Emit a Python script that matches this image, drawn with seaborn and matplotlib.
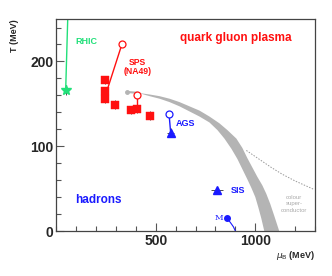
import numpy as np
import pandas as pd
import matplotlib
matplotlib.use('Agg')
import matplotlib.pyplot as plt
import seaborn as sns
from matplotlib.ticker import MultipleLocator

# ---- data (mu_B in MeV, T in MeV) ----
sps_mu = [245, 245, 245, 295, 378, 407, 470]
sps_T = [178, 165, 156, 149, 143, 144, 136]

sps_open_mu = [330, 407]
sps_open_T = [220, 160]
sps_link_mu = [245, 407]
sps_link_T = [158, 144]

rhic_mu, rhic_T = 48, 166
rhic_line_mu = [48, 62]
rhic_line_T = [166, 280]

ags_open = (567, 138)
ags_tri = (575, 116)
sis_tri = (808, 48)
m_dot = (858, 15)
m_line_mu = [858, 875, 890, 900]
m_line_T = [15, 10, 5, 0]

# phase boundary band edges
band_outer_mu = [410, 440, 470, 520, 570, 620, 670, 720, 770, 820, 860,
                 905, 935, 960, 985, 1010, 1035, 1055, 1075, 1095, 1120]
band_outer_T = [163, 162, 161, 159, 156, 152, 147, 142, 135, 127, 119,
                109, 98, 86, 75, 64, 54, 44, 32, 18, 0]
band_inner_mu = [410, 440, 470, 520, 570, 620, 670, 720, 770, 810, 845,
                 880, 910, 935, 960, 980, 1000, 1015, 1030, 1045]
band_inner_T = [163, 161, 159, 156, 152, 147, 141, 135, 128, 119, 109,
                97, 85, 73, 61, 51, 40, 28, 15, 0]
band_lead_mu = [355, 410]
band_lead_T = [164, 163]

# colour superconductor boundary (dotted)
csc_mu = [955, 1030, 1080, 1135, 1200, 1295]
csc_T = [95, 83, 75, 67, 59, 49]

sns.set_style('ticks')
plt.rcParams['font.family'] = ['Liberation Sans', 'DejaVu Sans']

RED = '#ff1010'
GREEN = '#22e07a'
BLUE = '#1a1aff'
GREY = '#b4b4b4'

fig = plt.figure(figsize=(3.32, 2.76), dpi=100)
ax = fig.add_axes([0.169, 0.163, 0.780, 0.768])

# band
poly_mu = band_outer_mu + band_inner_mu[::-1]
poly_T = band_outer_T + band_inner_T[::-1]
ax.fill(poly_mu, poly_T, color=GREY, lw=0, zorder=1)
ax.plot(band_lead_mu, band_lead_T, color=GREY, lw=1.5, zorder=1)
ax.plot(band_lead_mu[0], band_lead_T[0], 'o', color=GREY, ms=2.5, zorder=1)
ax.plot(csc_mu, csc_T, color='#999999', lw=0.7, ls=(0, (1.5, 1.5)), zorder=1)

# RHIC
ax.plot(rhic_line_mu, rhic_line_T, color=GREEN, lw=1, zorder=2)
ax.errorbar(rhic_mu, rhic_T, yerr=6, fmt='*', color=GREEN, ms=7.5,
            ecolor='#333333', elinewidth=0.6, capsize=0, zorder=3)

# SPS
ax.plot([sps_open_mu[0], sps_link_mu[0]], [sps_open_T[0], sps_link_T[0]],
        color=RED, lw=1, zorder=2)
ax.plot([sps_open_mu[1], sps_link_mu[1]], [sps_open_T[1], sps_link_T[1]],
        color=RED, lw=1, zorder=2)
ax.errorbar(sps_mu, sps_T, yerr=5, fmt='none', ecolor='#333333',
            elinewidth=0.6, zorder=2)
df_sps = pd.DataFrame({'mu': sps_mu, 'T': sps_T})
sns.scatterplot(data=df_sps, x='mu', y='T', marker='s', color=RED, s=40,
                edgecolor=RED, linewidth=0.3, ax=ax, zorder=3, legend=False)
ax.plot(sps_open_mu, sps_open_T, 'o', mfc='white', mec=RED, ms=5, mew=0.9, zorder=4)

# AGS
ax.plot([ags_open[0], ags_tri[0]], [ags_open[1], ags_tri[1]], color=BLUE, lw=1, zorder=2)
ax.errorbar(ags_tri[0], ags_tri[1], xerr=18, yerr=5, fmt='^', color=BLUE, ms=5.5,
            ecolor='#333333', elinewidth=0.6, capsize=0, zorder=3)
ax.plot(*ags_open, 'o', mfc='white', mec=BLUE, ms=5, mew=0.9, zorder=4)

# SIS
ax.errorbar(sis_tri[0], sis_tri[1], xerr=30, fmt='^', color=BLUE, ms=5.5,
            ecolor='#333333', elinewidth=0.6, capsize=0, zorder=3)

# M
ax.plot(m_line_mu, m_line_T, color=BLUE, lw=0.8, zorder=2)
ax.plot(*m_dot, 'o', color=BLUE, ms=4, zorder=3)

# labels
ax.text(900, 228, 'quark gluon plasma', color=RED, fontsize=8.5,
        fontweight='bold', ha='center', va='center')
ax.text(210, 37, 'hadrons', color=BLUE, fontsize=8.5, fontweight='bold',
        ha='center', va='center')
ax.text(150, 223, 'RHIC', color=GREEN, fontsize=6.5, fontweight='bold',
        ha='center', va='center')
ax.text(410, 194, 'SPS\n(NA49)', color=RED, fontsize=6.2, fontweight='bold',
        ha='center', va='center', linespacing=1.0)
ax.text(600, 127, 'AGS', color=BLUE, fontsize=6.5, fontweight='bold',
        ha='left', va='center')
ax.text(875, 48, 'SIS', color=BLUE, fontsize=6.5, fontweight='bold',
        ha='left', va='center')
ax.text(838, 15, 'M', color=BLUE, fontsize=6, family='DejaVu Serif',
        ha='right', va='center')
ax.text(1195, 32, 'colour\nsuper-\nconductor', color='#aaaaaa', fontsize=4.3,
        ha='center', va='center', linespacing=1.3)

ax.set_xlim(0, 1300)
ax.set_ylim(0, 250)
ax.set_xticks([500, 1000])
ax.set_yticks([0, 100, 200])
ax.xaxis.set_minor_locator(MultipleLocator(100))
ax.yaxis.set_minor_locator(MultipleLocator(20))
ax.tick_params(which='both', direction='in', top=False, right=False,
               color='#555555', width=0.8, labelsize=10, pad=2)
ax.tick_params(which='major', length=6)
ax.tick_params(which='minor', length=3.5)
for lab in ax.get_xticklabels() + ax.get_yticklabels():
    lab.set_fontweight('bold')
for sp in ax.spines.values():
    sp.set_visible(True)
    sp.set_color('#444444')
    sp.set_linewidth(0.9)

ax.set_xlabel('')
ax.set_ylabel('')
fig.text(0.045, 0.93, 'T (MeV)', rotation=90, fontsize=6.5, fontweight='bold',
         ha='center', va='top')
fig.text(0.949, 0.075, r'$\mu_{\rm B}$ (MeV)', fontsize=6.5, fontweight='bold',
         ha='right', va='center')

fig.savefig('out.png', dpi=100)
